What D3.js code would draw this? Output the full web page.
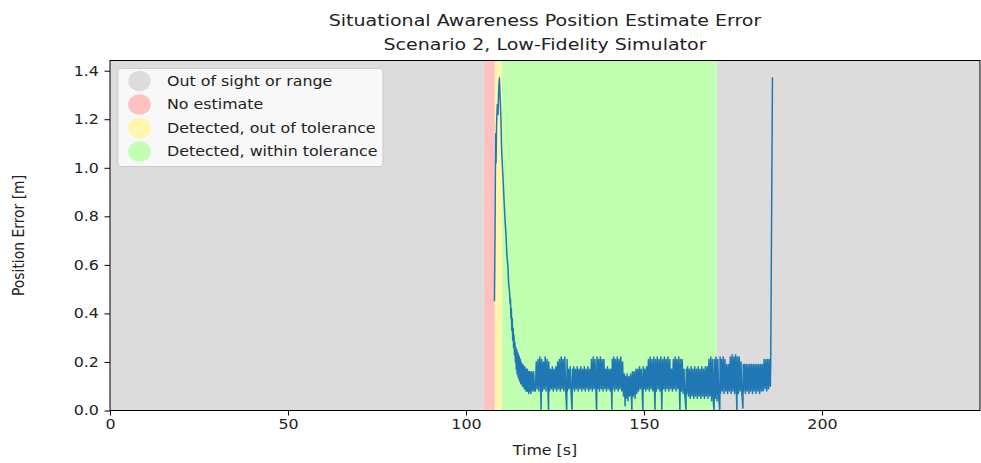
<!DOCTYPE html>
<html>
<head>
<meta charset="utf-8">
<script src="https://cdn.jsdelivr.net/npm/d3@7"></script>
<style>
	body { margin: 0; background: #fff; }
	svg { font-family: "DejaVu Sans", sans-serif; }
</style>
</head>
<body>
<div id="chart"></div>
<script>

// status spans along the time axis [start, end, status]
var statusSpans = [
	[0, 105.1, "out"],
	[105.1, 108.1, "none"],
	[108.1, 110.1, "outtol"],
	[110.1, 170.4, "intol"],
	[170.4, 244.4, "out"]
];

var statusNames = ["out", "none", "outtol", "intol"];
var statusLabels = ["Out of sight or range", "No estimate", "Detected, out of tolerance", "Detected, within tolerance"];
var statusColors = ["#dcdcdc", "#ffc0c0", "#fff6ad", "#c1ffb1"];

var xTicks = [0, 50, 100, 150, 200];
var yTicks = [0, 0.2, 0.4, 0.6, 0.8, 1.0, 1.2, 1.4];

// position error [m] vs time [s]
var errorSeries = [
	[108.0,0.45],[108.1,0.62],[108.15,0.70],[108.25,0.95],[108.35,1.14],[108.45,1.02],[108.6,1.18],
	[108.8,1.26],[109.0,1.22],[109.2,1.33],[109.4,1.37],[109.6,1.29],[109.8,1.21],[110.0,1.08],
	[110.25,1.00],[110.5,0.93],[110.75,0.85],[111.0,0.78],[111.25,0.72],[111.5,0.64],[111.75,0.60],
	[112.0,0.52],[112.25,0.49],[112.375,0.44],[112.5,0.46],[112.625,0.38],[112.75,0.42],[112.875,0.33],
	[113.0,0.38],[113.125,0.29],[113.25,0.34],[113.375,0.26],[113.5,0.31],[113.625,0.23],[113.75,0.28],
	[113.875,0.20],[114.0,0.26],[114.125,0.17],[114.25,0.25],[114.375,0.15],[114.5,0.24],[114.625,0.14],
	[114.75,0.23],[114.875,0.13],[115.0,0.22],[115.125,0.12],[115.25,0.21],[115.375,0.11],[115.5,0.20],
	[115.625,0.11],[115.75,0.19],[115.875,0.10],[116.0,0.19],[116.125,0.10],[116.25,0.18],[116.375,0.09],
	[116.5,0.18],[116.625,0.09],[116.75,0.17],[116.875,0.08],[117.0,0.17],[117.125,0.08],[117.25,0.17],
	[117.375,0.08],[117.5,0.16],[117.625,0.07],[117.75,0.16],[117.875,0.08],[118.0,0.16],[118.25,0.07],
	[118.5,0.16],[118.75,0.08],[119.0,0.16],[119.25,0.08],
	[119.5,0.08],[119.75,0.20],[120.0,0.09],[120.25,0.21],[120.5,0.08],[120.75,0.22],[121.0,0.09],
	[121.1,0.00],[121.25,0.21],[121.5,0.08],[121.75,0.20],[122.0,0.09],[122.25,0.22],[122.5,0.08],
	[122.75,0.21],[123.0,0.09],[123.2,0.00],[123.25,0.20],[123.5,0.08],[123.75,0.17],[124.0,0.09],
	[124.25,0.18],[124.5,0.08],[124.75,0.17],[125.0,0.09],[125.25,0.18],[125.5,0.08],[125.75,0.20],
	[126.0,0.09],[126.25,0.21],[126.5,0.08],[126.75,0.22],[127.0,0.09],[127.25,0.21],[127.5,0.08],
	[127.75,0.22],[128.0,0.09],[128.3,0.00],[128.4,0.21],[128.5,0.08],[128.75,0.17],[129.0,0.09],
	[129.25,0.18],[129.5,0.08],[129.8,0.00],[129.9,0.17],[130.0,0.09],[130.25,0.18],[130.5,0.08],
	[130.75,0.17],[131.0,0.09],[131.25,0.18],[131.5,0.08],[131.75,0.17],[132.0,0.09],[132.25,0.18],
	[132.5,0.08],[132.75,0.17],[133.0,0.09],[133.25,0.18],[133.5,0.08],[133.75,0.17],[134.0,0.09],
	[134.25,0.18],[134.5,0.08],[134.75,0.17],[135.0,0.09],[135.25,0.21],[135.5,0.08],[135.75,0.22],
	[136.0,0.09],[136.25,0.21],[136.5,0.08],[136.7,0.00],[136.8,0.22],[137.0,0.09],[137.25,0.21],
	[137.5,0.08],[137.75,0.22],[138.0,0.09],[138.25,0.21],[138.5,0.08],[138.75,0.21],[139.0,0.09],
	[139.25,0.17],[139.5,0.08],[139.75,0.18],[140.0,0.09],[140.25,0.17],[140.5,0.08],[140.75,0.17],
	[141.0,0.00],[141.1,0.21],[141.25,0.09],[141.5,0.22],[141.75,0.08],[142.0,0.21],[142.25,0.09],
	[142.5,0.22],[142.75,0.08],[143.0,0.21],[143.25,0.09],[143.5,0.22],[143.75,0.08],[144.0,0.20],
	[144.25,0.06],[144.5,0.15],[144.7,0.02],[144.75,0.14],[145.0,0.05],[145.25,0.15],[145.5,0.04],
	[145.75,0.14],[146.0,0.06],[146.25,0.15],[146.6,0.00],[146.75,0.16],[147.0,0.06],[147.25,0.16],
	[147.5,0.05],[147.75,0.17],[148.0,0.07],[148.25,0.17],[148.5,0.08],[148.75,0.18],[149.0,0.09],
	[149.25,0.17],[149.5,0.08],[149.7,0.00],[149.8,0.18],[150.0,0.09],[150.25,0.17],[150.5,0.08],
	[150.75,0.18],[151.0,0.09],[151.25,0.21],[151.5,0.08],[151.75,0.22],[152.0,0.09],[152.25,0.21],
	[152.5,0.08],[152.75,0.22],[153.1,0.00],[153.25,0.21],[153.5,0.08],[153.75,0.22],[154.0,0.09],
	[154.25,0.21],[154.5,0.08],[154.75,0.22],[155.0,0.00],[155.25,0.21],[155.5,0.09],[155.75,0.22],
	[156.0,0.08],[156.25,0.21],[156.5,0.09],[156.75,0.22],[157.0,0.08],[157.25,0.21],[157.5,0.09],
	[157.75,0.17],[158.0,0.08],[158.25,0.21],[158.5,0.09],[158.75,0.22],[159.0,0.08],[159.25,0.21],
	[159.5,0.09],[159.75,0.22],[160.1,0.00],[160.25,0.21],[160.5,0.08],[160.75,0.21],[161.0,0.07],
	[161.25,0.17],[161.5,0.06],[161.8,0.00],[161.9,0.17],[162.0,0.07],[162.25,0.18],[162.5,0.06],
	[162.75,0.17],[163.0,0.05],[163.25,0.18],[163.5,0.06],[163.75,0.17],[164.0,0.05],[164.25,0.18],
	[164.5,0.06],[164.75,0.17],[165.0,0.05],[165.25,0.18],[165.5,0.06],[165.75,0.17],[166.0,0.05],
	[166.25,0.18],[166.5,0.06],[166.75,0.17],[167.0,0.05],[167.25,0.18],[167.5,0.06],[167.75,0.18],
	[168.0,0.05],[168.25,0.21],[168.5,0.06],[168.75,0.22],[169.0,0.04],[169.25,0.21],[169.5,0.03],
	[169.7,0.00],[169.8,0.21],[170.0,0.05],[170.25,0.22],[170.5,0.04],[170.75,0.21],[171.0,0.05],
	[171.3,0.00],[171.4,0.22],[171.5,0.07],[171.75,0.21],[172.0,0.08],[172.25,0.22],[172.5,0.07],
	[172.75,0.21],[173.0,0.08],[173.25,0.19],[173.5,0.07],[173.75,0.19],[174.0,0.08],[174.25,0.22],
	[174.5,0.07],[174.75,0.23],[175.0,0.08],[175.25,0.22],[175.5,0.07],[175.75,0.23],[176.1,0.00],
	[176.25,0.22],[176.5,0.07],[176.75,0.22],[177.0,0.08],[177.25,0.20],[177.5,0.07],[177.8,0.01],
	[177.9,0.19],[178.0,0.08],[178.25,0.19],[178.5,0.07],[178.75,0.19],[179.0,0.08],[179.25,0.19],
	[179.5,0.07],[179.75,0.19],[180.0,0.08],[180.25,0.19],[180.5,0.07],[180.75,0.19],[181.0,0.08],
	[181.25,0.19],[181.5,0.07],[181.75,0.19],[182.0,0.08],[182.25,0.19],[182.5,0.07],[182.75,0.19],
	[183.0,0.08],[183.25,0.19],[183.5,0.08],[183.75,0.21],[184.0,0.09],[184.25,0.21],[184.5,0.08],
	[184.75,0.21],[185.0,0.09],[185.25,0.21],[185.5,0.10],[185.6,0.18],[186.1,1.373]
];


var width = 981,
	height = 463,
	margin = { top: 60.5, right: 1, bottom: 52.5, left: 110 },
	plotW = width - margin.left - margin.right,
	plotH = height - margin.top - margin.bottom,
	stretch = 1.14;   // the figure is a bit wider than tall, text included

var svg = d3.select("#chart").append("svg")
	.attr("width", width)
	.attr("height", height);

var x = d3.scaleLinear().domain([0, 244.4]).range([0, plotW]);
var y = d3.scaleLinear().domain([0, 1.442]).range([plotH, 0]);
var color = d3.scaleOrdinal().domain(statusNames).range(statusColors);

function placeText(sel, px, py) {
	sel.attr("transform", "translate(" + px + "," + py + ") scale(" + stretch + ",1)");
	return sel;
}

var g = svg.append("g")
	.attr("transform", "translate(" + margin.left + "," + margin.top + ")");

g.append("defs").append("clipPath").attr("id", "plotclip")
	.append("rect").attr("width", plotW).attr("height", plotH);

// status background spans
g.append("g").selectAll("rect")
	.data(statusSpans)
	.enter()
	.append("rect")
	.attr("x", function(d) { return x(d[0]); })
	.attr("width", function(d) { return x(d[1]) - x(d[0]); })
	.attr("y", 0)
	.attr("height", plotH)
	.attr("fill", function(d) { return color(d[2]); });

// error line
var line = d3.line()
	.x(function(d) { return x(d[0]); })
	.y(function(d) { return y(d[1]); });

g.append("path")
	.datum(errorSeries)
	.attr("clip-path", "url(#plotclip)")
	.attr("d", line)
	.attr("fill", "none")
	.attr("stroke", "#1f77b4")
	.attr("stroke-width", 1.5)
	.attr("stroke-linejoin", "round");

// axes
var xAxis = g.append("g")
	.attr("transform", "translate(0," + plotH + ")")
	.call(d3.axisBottom(x).tickValues(xTicks).tickSize(5).tickPadding(4).tickFormat(d3.format("d")));
var yAxis = g.append("g")
	.call(d3.axisLeft(y).tickValues(yTicks).tickSize(5.5).tickPadding(4).tickFormat(d3.format(".1f")));

[xAxis, yAxis].forEach(function(a) {
	a.select(".domain").remove();
	a.selectAll("line").attr("stroke", "#000").attr("stroke-width", 1);
	a.selectAll("text").attr("font-size", 13.9).attr("fill", "#222").attr("font-family", "DejaVu Sans");
});
xAxis.selectAll("text").attr("transform", "scale(" + stretch + ",1)");
yAxis.selectAll("text").attr("x", -11.1 / stretch).attr("transform", "scale(" + stretch + ",1)");

// frame
g.append("rect")
	.attr("width", plotW)
	.attr("height", plotH)
	.attr("fill", "none")
	.attr("stroke", "#000")
	.attr("stroke-width", 1);

// legend
var legend = g.append("g").attr("transform", "translate(8,8)");
legend.append("rect")
	.attr("width", 265)
	.attr("height", 98)
	.attr("rx", 3)
	.attr("fill", "#fff")
	.attr("fill-opacity", 0.8)
	.attr("stroke", "#cccccc")
	.attr("stroke-width", 1);

var items = legend.selectAll(".item")
	.data(statusNames)
	.enter()
	.append("g")
	.attr("transform", function(d, i) { return "translate(0," + (12.5 + i * 23.5) + ")"; });

items.append("line")
	.attr("x1", 8).attr("x2", 36)
	.attr("stroke", "#fff").attr("stroke-width", 1.5).attr("stroke-opacity", 0.6);
items.append("ellipse")
	.attr("cx", 21.5)
	.attr("rx", 11.3)
	.attr("ry", 10.3)
	.attr("fill", function(d) { return color(d); });
items.append("text")
	.attr("dy", "0.35em")
	.attr("font-size", 13.9)
	.attr("fill", "#222")
	.text(function(d, i) { return statusLabels[i]; })
	.each(function() { placeText(d3.select(this), 49, 0); });

// titles
placeText(svg.append("text"), margin.left + plotW / 2, 26)
	.attr("text-anchor", "middle")
	.attr("font-size", 16.7)
	.attr("fill", "#222")
	.text("Situational Awareness Position Estimate Error");
placeText(svg.append("text"), margin.left + plotW / 2, 50)
	.attr("text-anchor", "middle")
	.attr("font-size", 16.7)
	.attr("fill", "#222")
	.text("Scenario 2, Low-Fidelity Simulator");

placeText(svg.append("text"), margin.left + plotW / 2, 455)
	.attr("text-anchor", "middle")
	.attr("font-size", 13.9)
	.attr("fill", "#222")
	.text("Time [s]");

svg.append("text")
	.attr("transform", "translate(24," + (margin.top + plotH / 2) + ") rotate(-90) scale(1," + stretch + ")")
	.attr("text-anchor", "middle")
	.attr("font-size", 13.9)
	.attr("fill", "#222")
	.text("Position Error [m]");

</script>
</body>
</html>
